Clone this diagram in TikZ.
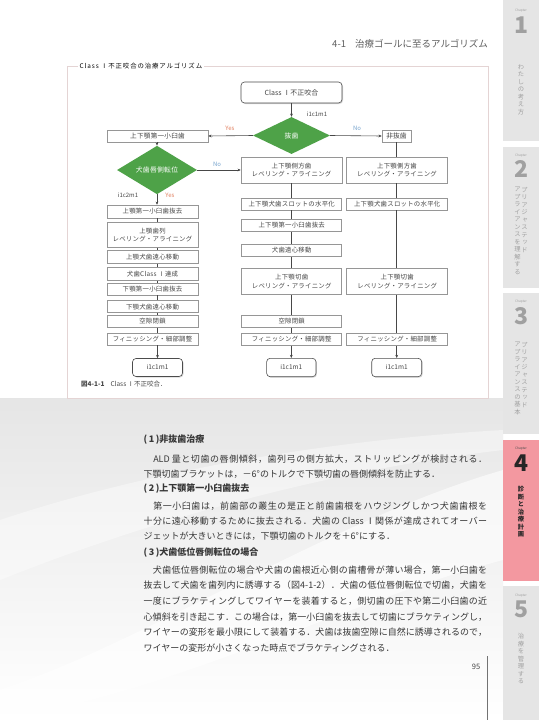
\documentclass[tikz,border=0pt]{standalone}
\usepackage{fontspec}
\setmainfont{Noto Sans CJK JP}
\newfontfamily\jpls[LetterSpace=4]{Noto Sans CJK JP}
\newfontfamily\jpwide[LetterSpace=14]{Noto Sans CJK JP}
\newfontfamily\jpv[RawFeature=+vert]{Noto Sans CJK JP}
\usetikzlibrary{shapes.geometric,shadows,arrows.meta}
\newcount\jcc
\def\setjclass#1#2{\jcc=#1\relax\loop\XeTeXcharclass\jcc=1\relax\ifnum\jcc<#2\advance\jcc by 1\repeat}
\setjclass{"3000}{"30FF}
\setjclass{"4E00}{"9FFF}
\setjclass{"FF00}{"FFEF}
\XeTeXinterchartoks 1 1 = {\hskip 0pt plus 1fil\relax}
\XeTeXinterchartoks 0 1 = {\hskip 0pt plus 1fil\relax}
\XeTeXinterchartoks 1 0 = {\hskip 0pt plus 1fil\relax}
\newcommand\jl[1]{\hbox to 343.5pt{\XeTeXinterchartokenstate=1 #1}}
\definecolor{green1}{RGB}{78,162,72}
\definecolor{boxline}{RGB}{150,150,150}
\definecolor{txt}{RGB}{70,70,70}
\definecolor{bodycol}{RGB}{55,55,55}
\definecolor{yescol}{RGB}{226,128,96}
\definecolor{nocol}{RGB}{118,163,205}
\definecolor{tabgray}{RGB}{229,229,229}
\definecolor{tabpink}{RGB}{243,152,160}
\definecolor{tabtxt}{RGB}{160,160,160}
\definecolor{framecol}{RGB}{228,212,212}
\definecolor{headcol}{RGB}{95,95,95}
\begin{document}
\begin{tikzpicture}[x=1pt,y=-1pt,
 fbox/.style={draw=boxline, line width=0.5pt, fill=white, inner sep=0pt, text=txt, font=\jpls\fontsize{6.4}{8.6}\selectfont, align=center},
 gdia/.style={diamond, fill=green1, inner sep=0pt, text=white, font=\jpls\fontsize{6.8}{8}\selectfont},
 rbox/.style={draw=black!70, line width=0.6pt, rounded corners=3.5pt, fill=white, inner sep=0pt, text=txt, drop shadow={opacity=0.3, shadow xshift=1pt, shadow yshift=-1pt}},
 conn/.style={draw=black!72, line width=0.6pt},
 arr/.style={conn, -{Stealth[length=3.2pt,width=2.8pt]}},
 yeslab/.style={text=yescol, font=\fontsize{6}{7}\selectfont, inner sep=0pt},
 nolab/.style={text=nocol, font=\fontsize{6}{7}\selectfont, inner sep=0pt},
 clab/.style={text=txt, font=\fontsize{6}{7}\selectfont, inner sep=0pt},
 body/.style={anchor=west, inner sep=0pt, text=bodycol, font=\fontsize{9}{11}\selectfont},
 bhead/.style={body, font=\bfseries\fontsize{9}{11}\selectfont},
 vt/.style={anchor=north, inner sep=0pt, align=center, font=\jpv\fontsize{6.3}{7.5}\selectfont, text=tabtxt},
 chap/.style={inner sep=0pt, font=\fontsize{3.2}{3.5}\selectfont, text=tabtxt},
 num/.style={inner sep=0pt, font=\bfseries\fontsize{23}{23}\selectfont, text=tabtxt}
]
\useasboundingbox (0,0) rectangle (539,720);
\fill[white] (0,0) rectangle (539,720);
% background of lower page
\shade[top color=black!10, bottom color=white] (0,398) rectangle (503,720);
\fill[white,opacity=0.6] (0,690) .. controls (150,640) and (330,520) .. (503,470) -- (503,560) .. controls (350,600) and (180,690) .. (0,720) -- cycle;
\fill[white,opacity=0.4] (0,520) .. controls (150,470) and (330,440) .. (503,430) -- (503,450) .. controls (330,470) and (150,520) .. (0,580) -- cycle;
% sidebar
\fill[tabgray] (503,0) rectangle (539,141);
\fill[tabgray] (503,146.5) rectangle (539,287.5);
\fill[tabgray] (503,293) rectangle (539,434);
\fill[tabpink] (503,439.5) rectangle (539,580.5);
\fill[tabgray] (503,586) rectangle (539,720);
\node[chap] (ch1) at (521,11) {Chapter};
\node[num] (n1) at (521,25) {1};
\node[vt] (v1) at (521,64) {わ\\た\\し\\の\\考\\え\\方};
\node[chap] (ch2) at (521,156) {Chapter};
\node[num] (n2) at (521,169) {2};
\node[vt] (v2a) at (524.5,187) {プ\\リ\\ア\\ジ\\ャ\\ス\\テ\\ッ\\ド};
\node[vt] (v2b) at (517.5,187) {ア\\プ\\ラ\\イ\\ア\\ン\\ス\\を\\理\\解\\す\\る};
\node[chap] (ch3) at (521,302) {Chapter};
\node[num] (n3) at (521,316) {3};
\node[vt] (v3a) at (524.5,342) {プ\\リ\\ア\\ジ\\ャ\\ス\\テ\\ッ\\ド};
\node[vt] (v3b) at (517.5,342) {ア\\プ\\ラ\\イ\\ア\\ン\\ス\\の\\基\\本};
\node[chap, text=black!70] (ch4) at (521,449) {Chapter};
\node[num, text=black!85] (n4) at (521,463) {4};
\node[vt, text=black!85, font=\jpv\bfseries\fontsize{6.3}{7.5}\selectfont] (v4) at (521,486) {診\\断\\と\\治\\療\\計\\画};
\node[chap] (ch5) at (521,595.5) {Chapter};
\node[num] (n5) at (521,609) {5};
\node[vt] (v5) at (521,633) {治\\療\\を\\管\\理\\す\\る};
% header
\node[anchor=east, inner sep=0pt, text=headcol, font=\fontsize{9.5}{11}\selectfont] (hd) at (488,44) {4-1\hspace{9pt}治療ゴールに至るアルゴリズム};
% frame
\draw[framecol, fill=white, line width=0.6pt] (67,66) rectangle (488,398);
\node[anchor=west, fill=white, inner sep=1.5pt, font=\jpwide\fontsize{6.4}{7}\selectfont] (ft) at (78,66) {Class Ⅰ不正咬合の治療アルゴリズム};
% flowchart
\node[rbox, minimum width=101pt, minimum height=21pt, font=\fontsize{7}{8}\selectfont] (start) at (291.5,92.5) {Class Ⅰ不正咬合};
\node[gdia, minimum width=77pt, minimum height=37pt] (d1) at (291.5,135.5) {抜歯};
\node[fbox, minimum width=101pt, minimum height=12pt, font=\jpls\fontsize{6.6}{8}\selectfont] (LB) at (157.5,136) {上下顎第一小臼歯};
\node[fbox, minimum width=29pt, minimum height=12pt, font=\fontsize{6.8}{8}\selectfont] (NB) at (396.5,136) {非抜歯};
\node[gdia, minimum width=80pt, minimum height=36pt] (d2) at (157,170) {犬歯唇側転位};
\node[fbox, minimum width=101pt, minimum height=26pt] (C1) at (291.5,170) {上下顎側方歯\\レベリング・アライニング};
\node[fbox, minimum width=101pt, minimum height=26pt] (R1) at (397,170) {上下顎側方歯\\レベリング・アライニング};
% left column
\node[fbox, minimum width=91pt, minimum height=13pt] (L1) at (152.5,211.5) {上顎第一小臼歯抜去};
\node[fbox, minimum width=91pt, minimum height=25pt] (L2) at (152.5,235) {上顎歯列\\レベリング・アライニング};
\node[fbox, minimum width=91pt, minimum height=12.6pt] (L3) at (152.5,257) {上顎犬歯遠心移動};
\node[fbox, minimum width=91pt, minimum height=13pt] (L4) at (152.5,274) {犬歯Class Ⅰ達成};
\node[fbox, minimum width=91pt, minimum height=11.7pt] (L5) at (152.5,289.2) {下顎第一小臼歯抜去};
\node[fbox, minimum width=91pt, minimum height=12pt] (L6) at (152.5,306.7) {下顎犬歯遠心移動};
\node[fbox, minimum width=91pt, minimum height=12.3pt] (L7) at (152.5,321.2) {空隙閉鎖};
\node[fbox, minimum width=91pt, minimum height=11.7pt] (L8) at (152.5,339.2) {フィニッシング・細部調整};
\node[rbox, minimum width=50pt, minimum height=18pt, font=\fontsize{6.5}{7}\selectfont] (LE) at (157.5,367.5) {i1c1m1};
% center column
\node[fbox, minimum width=100pt, minimum height=12pt] (C2) at (291.7,204) {上下顎犬歯スロットの水平化};
\node[fbox, minimum width=100pt, minimum height=12.7pt] (C3) at (291.7,225.3) {上下顎第一小臼歯抜去};
\node[fbox, minimum width=100pt, minimum height=12.7pt] (C4) at (291.7,250.3) {犬歯遠心移動};
\node[fbox, minimum width=100pt, minimum height=26pt] (C5) at (291.7,281.3) {上下顎切歯\\レベリング・アライニング};
\node[fbox, minimum width=100pt, minimum height=12.3pt] (C6) at (291.7,321.2) {空隙閉鎖};
\node[fbox, minimum width=100pt, minimum height=12.3pt] (C7) at (291.7,339.5) {フィニッシング・細部調整};
\node[rbox, minimum width=49.3pt, minimum height=18.4pt, font=\fontsize{6.5}{7}\selectfont] (CE) at (291.3,367.5) {i1c1m1};
% right column
\node[fbox, minimum width=101pt, minimum height=12pt] (R2) at (397.2,204) {上下顎犬歯スロットの水平化};
\node[fbox, minimum width=101pt, minimum height=26pt] (R3) at (397.2,281.3) {上下顎切歯\\レベリング・アライニング};
\node[fbox, minimum width=101pt, minimum height=12.3pt] (R4) at (397.2,339.5) {フィニッシング・細部調整};
\node[rbox, minimum width=50pt, minimum height=18.4pt, font=\fontsize{6.5}{7}\selectfont] (RE) at (396.7,367.5) {i1c1m1};
% labels
\node[yeslab] (y1) at (230,128) {Yes};
\node[nolab] (no1) at (357,128) {No};
\node[nolab] (no2) at (217,164) {No};
\node[clab] (k1) at (317,114) {i1c1m1};
\node[clab] (k2) at (128,195) {i1c2m1};
\node[yeslab] (y2) at (170,195) {Yes};
% connectors
\draw[arr] (start) -- (d1);
\draw[arr] (d1.west) -- (LB.east);
\draw[arr] (d1.east) -- (NB.west);
\draw[arr] (LB.south -| d2.north) -- (d2.north);
\draw[arr] (d2.east) -- (C1.west);
\draw[arr] (d2.south) -- (d2.south |- L1.north);
\foreach \a/\b in {L1/L2,L2/L3,L3/L4,L4/L5,L5/L6,L6/L7,L7/L8}
  \draw[conn] (\a.south -| d2.south) -- (\b.north -| d2.south);
\draw[arr] (L8.south -| LE.north) -- (LE.north);
\foreach \a/\b in {C1/C2,C2/C3,C3/C4,C4/C5,C5/C6,C6/C7}
  \draw[conn] (\a.south -| CE.north) -- (\b.north -| CE.north);
\draw[arr] (C7.south -| CE.north) -- (CE.north);
\draw[conn] (NB.south -| RE.north) -- (R1.north -| RE.north);
\foreach \a/\b in {R1/R2,R2/R3,R3/R4}
  \draw[conn] (\a.south -| RE.north) -- (\b.north -| RE.north);
\draw[arr] (R4.south -| RE.north) -- (RE.north);
% caption
\node[anchor=west, inner sep=0pt, text=txt, font=\fontsize{6.5}{7}\selectfont] (cap) at (81,384) {\textbf{図4-1-1}\hspace{6pt}Class Ⅰ不正咬合．};
% body text
\node[bhead] (b1) at (143.5,440) {(\,1\,)非抜歯治療};
\node[body] (b2) at (143.5,459) {\jl{　ALD 量と切歯の唇側傾斜，歯列弓の側方拡大，ストリッピングが検討される．}};
\node[body] (b3) at (143.5,474) {下顎切歯ブラケットは，－6°のトルクで下顎切歯の唇側傾斜を防止する．};
\node[bhead] (b4) at (143.5,489) {(\,2\,)上下顎第一小臼歯抜去};
\node[body] (b5) at (143.5,506) {\jl{　第一小臼歯は，前歯部の叢生の是正と前歯歯根をハウジングしかつ犬歯歯根を}};
\node[body] (b6) at (143.5,521) {\jl{十分に遠心移動するために抜去される．犬歯の Class Ⅰ関係が達成されてオーバー}};
\node[body] (b7) at (143.5,536) {ジェットが大きいときには，下顎切歯のトルクを＋6°にする．};
\node[bhead] (b8) at (143.5,553) {(\,3\,)犬歯低位唇側転位の場合};
\node[body] (b9) at (143.5,570) {\jl{　犬歯低位唇側転位の場合や犬歯の歯根近心側の歯槽骨が薄い場合，第一小臼歯を}};
\node[body] (b10) at (143.5,585) {\jl{抜去して犬歯を歯列内に誘導する（図4-1-2）．犬歯の低位唇側転位で切歯，犬歯を}};
\node[body] (b11) at (143.5,601) {\jl{一度にブラケティングしてワイヤーを装着すると，側切歯の圧下や第二小臼歯の近}};
\node[body] (b12) at (143.5,617) {\jl{心傾斜を引き起こす．この場合は，第一小臼歯を抜去して切歯にブラケティングし，}};
\node[body] (b13) at (143.5,632) {\jl{ワイヤーの変形を最小限にして装着する．犬歯は抜歯空隙に自然に誘導されるので，}};
\node[body] (b14) at (143.5,648) {ワイヤーの変形が小さくなった時点でブラケティングされる．};
% page number
\node[inner sep=0pt, text=txt, font=\fontsize{7.5}{8}\selectfont] (pg) at (476,667) {95};
\coordinate (pl1) at (487,656);
\coordinate (pl2) at (487,720);
\draw[black!55, line width=0.5pt] (pl1) -- (pl2);
\end{tikzpicture}
\end{document}
